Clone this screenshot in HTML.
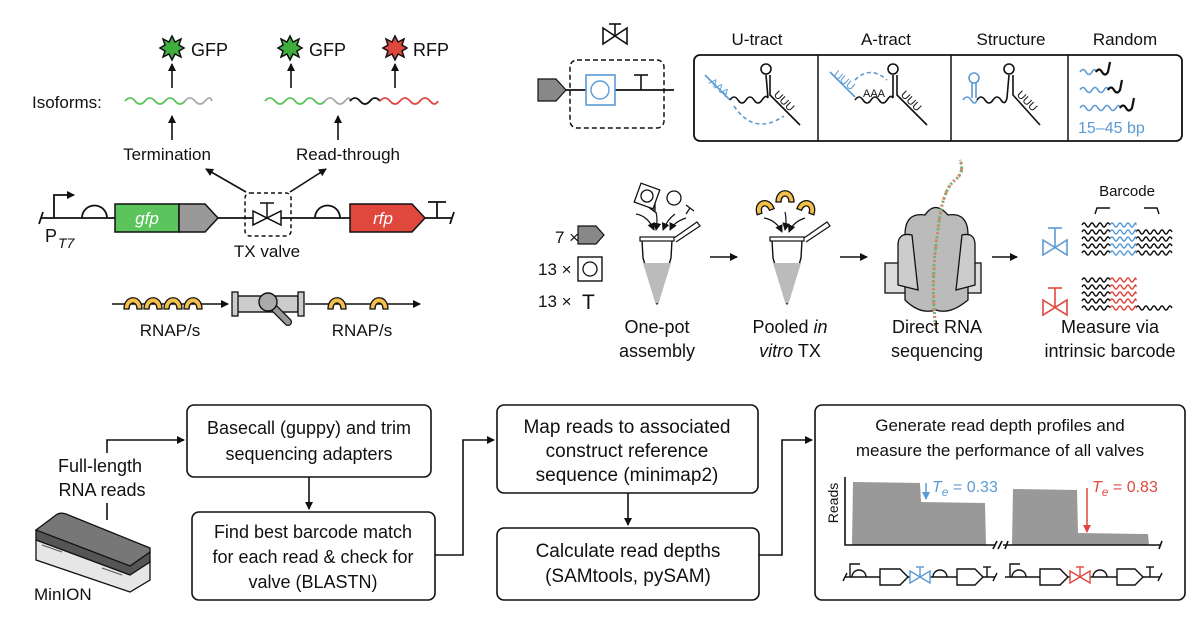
<!DOCTYPE html>
<html><head><meta charset="utf-8"><style>
html,body{margin:0;padding:0;background:#fff}
svg{display:block}
text{font-family:"Liberation Sans",sans-serif;fill:#111}
</style></head><body>
<svg width="1200" height="621" viewBox="0 0 1200 621" xmlns="http://www.w3.org/2000/svg">
<defs>
<marker id="ah" markerWidth="8" markerHeight="8" refX="7" refY="4" orient="auto" markerUnits="userSpaceOnUse"><path d="M0,0 L8,4 L0,8 z" fill="#111"/></marker>
<marker id="ahb" markerWidth="8" markerHeight="8" refX="7" refY="4" orient="auto" markerUnits="userSpaceOnUse"><path d="M0,0 L8,4 L0,8 z" fill="#5b9bd5"/></marker>
<marker id="ahr" markerWidth="8" markerHeight="8" refX="7" refY="4" orient="auto" markerUnits="userSpaceOnUse"><path d="M0,0 L8,4 L0,8 z" fill="#e0483e"/></marker>
<path id="star" d="M0,-12 L3,-6 L9,-9 L7,-3 L12,0 L7,3 L9,9 L3,6 L0,12 L-3,6 L-9,9 L-7,3 L-12,0 L-7,-3 L-9,-9 L-3,-6 Z"/>
<path id="cres" d="M-9,5 C-9,-10 9,-10 9,5 L4,5 C4,-3 -4,-3 -4,5 Z" fill="#f4c04a" stroke="#111" stroke-width="1.3"/>
</defs>

<!-- ===== Top-left ===== -->
<use href="#star" x="172" y="48" fill="#3fae3f" stroke="#111" stroke-width="1.5"/>
<text x="191" y="56" font-size="18">GFP</text>
<use href="#star" x="290" y="48" fill="#3fae3f" stroke="#111" stroke-width="1.5"/>
<text x="309" y="56" font-size="18">GFP</text>
<use href="#star" x="395" y="48" fill="#e0483e" stroke="#111" stroke-width="1.5"/>
<text x="413" y="56" font-size="18">RFP</text>
<g stroke="#111" stroke-width="1.6" fill="none" marker-end="url(#ah)">
<line x1="172" y1="88" x2="172" y2="64"/><line x1="291" y1="88" x2="291" y2="64"/><line x1="395" y1="88" x2="395" y2="64"/>
<line x1="172" y1="140" x2="172" y2="116"/><line x1="338" y1="140" x2="338" y2="116"/>
<line x1="246" y1="192" x2="206" y2="169"/><line x1="290" y1="192" x2="326" y2="169"/>
</g>
<text x="32" y="108" font-size="17">Isoforms:</text>
<g fill="none" stroke-width="1.8">
<path d="M125,101 q5,-6 10,0 t10,0 t10,0 t10,0 t10,0 t10,0" stroke="#5cc45c"/>
<path d="M185,101 q5,-6 10,0 t10,0 t7,0" stroke="#aaa"/>
<path d="M265,101 q5,-6 10,0 t10,0 t10,0 t10,0 t10,0 t10,0" stroke="#5cc45c"/>
<path d="M325,101 q5,-6 10,0 t10,0 t5,0" stroke="#aaa"/>
<path d="M350,101 q5,-6 10,0 t10,0 t10,0" stroke="#111"/>
<path d="M380,101 q5,-6 10,0 t10,0 t10,0 t10,0 t10,0 t8,0" stroke="#e0483e"/>
</g>
<text x="167" y="160" font-size="17" text-anchor="middle">Termination</text>
<text x="348" y="160" font-size="17" text-anchor="middle">Read-through</text>
<g stroke="#111" stroke-width="1.8" fill="none">
<line x1="41" y1="218" x2="452" y2="218"/>
<line x1="39" y1="224" x2="43" y2="212"/><line x1="450" y1="224" x2="454" y2="212"/>
<polyline points="54,218 54,195 74,195" marker-end="url(#ah)"/>
<path d="M82,218 a12,12 0 0 1 25,0"/>
<path d="M315,218 a12,12 0 0 1 25,0"/>
<line x1="437" y1="218" x2="437" y2="202"/><line x1="428" y1="202" x2="446" y2="202"/>
</g>
<rect x="115" y="204" width="64" height="28" fill="#5cc45c" stroke="#111" stroke-width="1.5"/>
<path d="M179,204 L205,204 L218,218 L205,232 L179,232 Z" fill="#999" stroke="#111" stroke-width="1.5"/>
<text x="147" y="224" font-size="17" text-anchor="middle" font-style="italic" style="fill:#fff">gfp</text>
<path d="M350,204 L412,204 L425,218 L412,232 L350,232 Z" fill="#e0483e" stroke="#111" stroke-width="1.5"/>
<text x="383" y="224" font-size="17" text-anchor="middle" font-style="italic" style="fill:#fff">rfp</text>
<rect x="245" y="193" width="46" height="43" rx="5" fill="none" stroke="#111" stroke-width="1.5" stroke-dasharray="4,3"/>
<path d="M253,211 L281,225 L281,211 L253,225 Z" fill="#fff" stroke="#111" stroke-width="1.5"/>
<line x1="267" y1="218" x2="267" y2="203" stroke="#111" stroke-width="1.5"/><line x1="260" y1="203" x2="274" y2="203" stroke="#111" stroke-width="1.5"/>
<text x="267" y="257" font-size="17" text-anchor="middle">TX valve</text>
<text x="45" y="242" font-size="18">P</text><text x="58" y="248" font-size="14" font-style="italic">T7</text>
<g stroke="#111" stroke-width="1.6">
<line x1="112" y1="304" x2="228" y2="304" marker-end="url(#ah)"/>
<line x1="305" y1="304" x2="420" y2="304" marker-end="url(#ah)"/>
</g>
<use href="#cres" x="133" y="304"/><use href="#cres" x="153" y="304"/><use href="#cres" x="173" y="304"/><use href="#cres" x="193" y="304"/>
<use href="#cres" x="337" y="304"/><use href="#cres" x="379" y="304"/>
<rect x="236" y="296" width="62" height="16" fill="#ccc" stroke="#111" stroke-width="1.4"/>
<rect x="232" y="292" width="6" height="24" fill="#ccc" stroke="#111" stroke-width="1.3"/>
<rect x="298" y="292" width="6" height="24" fill="#ccc" stroke="#111" stroke-width="1.3"/>
<line x1="270" y1="304" x2="288" y2="322" stroke="#111" stroke-width="8" stroke-linecap="round"/>
<line x1="270" y1="304" x2="288" y2="322" stroke="#999" stroke-width="5.5" stroke-linecap="round"/>
<circle cx="268" cy="302" r="9" fill="#aaa" stroke="#111" stroke-width="1.4"/>
<text x="170" y="336" font-size="17" text-anchor="middle">RNAP/s</text>
<text x="362" y="336" font-size="17" text-anchor="middle">RNAP/s</text>

<!-- ===== Top-right ===== -->
<path d="M603,28 L627,44 L627,28 L603,44 Z" fill="#fff" stroke="#111" stroke-width="1.6"/>
<line x1="615" y1="36" x2="615" y2="24" stroke="#111" stroke-width="1.6"/><line x1="609" y1="24" x2="621" y2="24" stroke="#111" stroke-width="1.6"/>
<rect x="570" y="60" width="94" height="68" rx="7" fill="none" stroke="#111" stroke-width="1.5" stroke-dasharray="5,3"/>
<line x1="560" y1="90" x2="674" y2="90" stroke="#111" stroke-width="1.8"/>
<path d="M538,79 L556,79 L566,90 L556,101 L538,101 Z" fill="#888" stroke="#111" stroke-width="1.2"/>
<rect x="586" y="75" width="29" height="30" fill="#fff" stroke="#5b9bd5" stroke-width="1.6"/>
<circle cx="600" cy="90" r="9" fill="none" stroke="#5b9bd5" stroke-width="1.4"/>
<line x1="641" y1="90" x2="641" y2="75" stroke="#111" stroke-width="1.6"/><line x1="634" y1="75" x2="648" y2="75" stroke="#111" stroke-width="1.6"/>
<text x="757" y="45" font-size="17" text-anchor="middle">U-tract</text>
<text x="886" y="45" font-size="17" text-anchor="middle">A-tract</text>
<text x="1011" y="45" font-size="17" text-anchor="middle">Structure</text>
<text x="1125" y="45" font-size="17" text-anchor="middle">Random</text>
<rect x="694" y="55" width="488" height="86" rx="6" fill="none" stroke="#111" stroke-width="1.8"/>
<line x1="818" y1="55" x2="818" y2="141" stroke="#111" stroke-width="1.5"/>
<line x1="951" y1="55" x2="951" y2="141" stroke="#111" stroke-width="1.5"/>
<line x1="1068" y1="55" x2="1068" y2="141" stroke="#111" stroke-width="1.5"/>
<g fill="none" stroke-width="1.6">
<path d="M705,75 L730,100" stroke="#5b9bd5"/><text x="710" y="85" font-size="11" style="fill:#5b9bd5" transform="rotate(40 712 82)">AAA</text>
<path d="M730,100 q4,-6 8,0 t8,0 t8,0 t8,0 t6,-2 L766,75" stroke="#111"/>
<path d="M734,106 q20,30 50,10" stroke="#5b9bd5" stroke-dasharray="4,3"/>
<circle cx="766" cy="69" r="5" stroke="#111"/>
<path d="M770,75 L770,95 L800,125" stroke="#111"/>
<text x="772" y="98" font-size="11" transform="rotate(45 776 98)">UUU</text>
<path d="M830,72 L855,97" stroke="#5b9bd5"/><text x="832" y="78" font-size="11" style="fill:#5b9bd5" transform="rotate(40 836 78)">UUU</text>
<path d="M855,100 q4,-6 8,0 t8,0 t8,0 t8,0 t6,-2 L893,75" stroke="#111"/>
<path d="M855,80 q15,-15 32,0" stroke="#5b9bd5" stroke-dasharray="4,3"/>
<text x="863" y="97" font-size="11">AAA</text>
<circle cx="893" cy="69" r="5" stroke="#111"/>
<path d="M897,75 L897,95 L927,125" stroke="#111"/>
<text x="899" y="98" font-size="11" transform="rotate(45 903 98)">UUU</text>
<path d="M963,100 q4,-6 8,0 t6,0" stroke="#5b9bd5"/>
<circle cx="974" cy="78" r="5" stroke="#5b9bd5"/><line x1="972" y1="83" x2="972" y2="98" stroke="#5b9bd5"/><line x1="976" y1="83" x2="976" y2="98" stroke="#5b9bd5"/>
<path d="M977,100 q4,-6 8,0 t8,0 t8,0 t6,-2 L1009,75" stroke="#111"/>
<circle cx="1009" cy="69" r="5" stroke="#111"/>
<path d="M1013,75 L1013,95 L1040,125" stroke="#111"/>
<text x="1015" y="98" font-size="11" transform="rotate(45 1019 98)">UUU</text>
<path d="M1080,72 q3,-5 6,0 t6,0 t4,0" stroke="#5b9bd5"/><path d="M1096,72 q3,-5 6,0 t6,0 L1110,62" stroke="#111" stroke-width="2.2"/>
<path d="M1080,90 q3,-5 6,0 t6,0 t6,0 t6,0 t4,0" stroke="#5b9bd5"/><path d="M1108,90 q3,-5 6,0 t6,0 L1122,80" stroke="#111" stroke-width="2.2"/>
<path d="M1080,108 q3,-5 6,0 t6,0 t6,0 t6,0 t6,0 t6,0 t4,0" stroke="#5b9bd5"/><path d="M1120,108 q3,-5 6,0 t6,0 L1134,98" stroke="#111" stroke-width="2.2"/>
</g>
<text x="1078" y="133" font-size="16" style="fill:#5b9bd5">15–45 bp</text>

<text x="555" y="243" font-size="17">7 ×</text>
<path d="M578,226 L596,226 L604,235 L596,244 L578,244 Z" fill="#888" stroke="#111" stroke-width="1.2"/>
<text x="538" y="275" font-size="17">13 ×</text>
<rect x="578" y="257" width="24" height="24" fill="#fff" stroke="#111" stroke-width="1.4"/><circle cx="590" cy="269" r="7" fill="none" stroke="#111" stroke-width="1.3"/>
<text x="538" y="307" font-size="17">13 ×</text>
<text x="582" y="309" font-size="21">T</text>
<g stroke="#111" stroke-width="1.3">
<path d="M643,203 L655,212 L655,202 Z" fill="#888"/>
<rect x="637" y="186" width="20" height="20" fill="#fff" transform="rotate(20 647 196)"/>
<circle cx="647" cy="196" r="6" fill="none"/>
<circle cx="674" cy="198" r="7" fill="#fff"/>
<path d="M686,205 L694,211 M690,208 L686,214" fill="none"/>
</g>
<g stroke="#111" stroke-width="1.2" fill="none" marker-end="url(#ah)">
<path d="M636,214 q12,2 18,16"/><path d="M656,212 q2,8 0,18"/><path d="M675,214 q-8,6 -12,16"/><path d="M686,218 q-12,4 -16,12"/>
</g>
<path d="M642,240 L672,240 L671,258 L658,302 Q657,306 656,302 L643,258 Z" fill="#fff" stroke="#111" stroke-width="1.4"/>
<path d="M643,263 L671,263 L659,302 Q657,305 655,302 Z" fill="#bbb"/>
<rect x="640" y="237" width="34" height="4" fill="#fff" stroke="#111" stroke-width="1.2"/>
<path d="M674,238 L697,222 L700,226 L676,242" fill="#fff" stroke="#111" stroke-width="1.2"/>
<line x1="710" y1="257" x2="737" y2="257" stroke="#111" stroke-width="1.6" marker-end="url(#ah)"/>
<use href="#cres" x="764" y="207" transform="rotate(-20 764 207)"/><use href="#cres" x="785" y="197"/><use href="#cres" x="807" y="207" transform="rotate(20 807 207)"/>
<g stroke="#111" stroke-width="1.2" fill="none" marker-end="url(#ah)">
<path d="M764,218 q12,2 18,14"/><path d="M785,212 q2,8 0,18"/><path d="M805,218 q-12,4 -16,14"/>
</g>
<path d="M772,240 L802,240 L801,258 L788,302 Q787,306 786,302 L773,258 Z" fill="#fff" stroke="#111" stroke-width="1.4"/>
<path d="M773,263 L801,263 L789,302 Q787,305 785,302 Z" fill="#bbb"/>
<rect x="770" y="237" width="34" height="4" fill="#fff" stroke="#111" stroke-width="1.2"/>
<path d="M804,238 L827,222 L830,226 L806,242" fill="#fff" stroke="#111" stroke-width="1.2"/>
<line x1="840" y1="257" x2="867" y2="257" stroke="#111" stroke-width="1.6" marker-end="url(#ah)"/>
<rect x="885" y="263" width="96" height="30" fill="#ddd" stroke="#111" stroke-width="1.3"/>
<path d="M905,300 L905,235 Q905,212 925,215 Q935,200 948,215 Q968,212 968,235 L968,300 Q950,315 936,310 Q920,315 905,300 Z" fill="#bbb" stroke="#111" stroke-width="1.3"/>
<path d="M898,285 L898,245 Q898,232 912,235 L918,290 Z M975,285 L975,245 Q975,232 962,235 L956,290 Z" fill="#ccc" stroke="#111" stroke-width="1.3"/>
<path d="M936,330 Q930,280 938,230 Q942,190 955,180 Q965,172 960,160" fill="none" stroke="#7a7" stroke-width="3" stroke-dasharray="2,2"/>
<path d="M936,330 Q930,280 938,230 Q942,190 955,180 Q965,172 960,160" fill="none" stroke="#d86" stroke-width="3" stroke-dasharray="2,5" stroke-dashoffset="2"/>
<line x1="992" y1="257" x2="1017" y2="257" stroke="#111" stroke-width="1.6" marker-end="url(#ah)"/>
<g stroke="#5b9bd5" stroke-width="1.6" fill="#fff">
<path d="M1043,240 L1067,255 L1067,240 L1043,255 Z"/><line x1="1055" y1="247" x2="1055" y2="228"/><line x1="1048" y1="228" x2="1062" y2="228"/>
</g>
<g stroke="#e0483e" stroke-width="1.6" fill="#fff">
<path d="M1043,300 L1067,315 L1067,300 L1043,315 Z"/><line x1="1055" y1="307" x2="1055" y2="288"/><line x1="1048" y1="288" x2="1062" y2="288"/>
</g>
<g fill="none" stroke-width="1.4">
<g stroke="#111"><path d="M1082,225 q2,-4 4,0 t4,0 t4,0 t4,0 t4,0 t4,0 t4,0 M1082,232 q2,-4 4,0 t4,0 t4,0 t4,0 t4,0 t4,0 t4,0 M1082,239 q2,-4 4,0 t4,0 t4,0 t4,0 t4,0 t4,0 t4,0 M1082,246 q2,-4 4,0 t4,0 t4,0 t4,0 t4,0 t4,0 t4,0 M1082,253 q2,-4 4,0 t4,0 t4,0 t4,0 t4,0 t4,0 t4,0"/>
<path d="M1136,232 q2,-4 4,0 t4,0 t4,0 t4,0 t4,0 t4,0 t4,0 t4,0 t4,0 M1136,239 q2,-4 4,0 t4,0 t4,0 t4,0 t4,0 t4,0 t4,0 t4,0 t4,0 M1136,246 q2,-4 4,0 t4,0 t4,0 t4,0 t4,0 t4,0 t4,0 t4,0 t4,0 M1136,253 q2,-4 4,0 t4,0 t4,0 t4,0 t4,0 t4,0 t4,0 t4,0 t4,0"/>
<path d="M1082,280 q2,-4 4,0 t4,0 t4,0 t4,0 t4,0 t4,0 t4,0 M1082,287 q2,-4 4,0 t4,0 t4,0 t4,0 t4,0 t4,0 t4,0 M1082,294 q2,-4 4,0 t4,0 t4,0 t4,0 t4,0 t4,0 t4,0 M1082,301 q2,-4 4,0 t4,0 t4,0 t4,0 t4,0 t4,0 t4,0 M1082,308 q2,-4 4,0 t4,0 t4,0 t4,0 t4,0 t4,0 t4,0"/>
<path d="M1136,308 q2,-4 4,0 t4,0 t4,0 t4,0 t4,0 t4,0 t4,0 t4,0 t4,0"/></g>
<g stroke="#5b9bd5"><path d="M1110,225 q2,-4 4,0 t4,0 t4,0 t4,0 t4,0 t4,0 t2,0 M1110,232 q2,-4 4,0 t4,0 t4,0 t4,0 t4,0 t4,0 t2,0 M1110,239 q2,-4 4,0 t4,0 t4,0 t4,0 t4,0 t4,0 t2,0 M1110,246 q2,-4 4,0 t4,0 t4,0 t4,0 t4,0 t4,0 t2,0 M1110,253 q2,-4 4,0 t4,0 t4,0 t4,0 t4,0 t4,0 t2,0"/></g>
<g stroke="#e0483e"><path d="M1110,280 q2,-4 4,0 t4,0 t4,0 t4,0 t4,0 t4,0 t2,0 M1110,287 q2,-4 4,0 t4,0 t4,0 t4,0 t4,0 t4,0 t2,0 M1110,294 q2,-4 4,0 t4,0 t4,0 t4,0 t4,0 t4,0 t2,0 M1110,301 q2,-4 4,0 t4,0 t4,0 t4,0 t4,0 t4,0 t2,0 M1110,308 q2,-4 4,0 t4,0 t4,0 t4,0 t4,0 t4,0 t2,0"/></g>
<path d="M1095,214 L1097,208 L1110,208 M1144,208 L1157,208 L1159,214" stroke="#111"/>
</g>
<text x="1127" y="196" font-size="15" text-anchor="middle">Barcode</text>
<g font-size="18" text-anchor="middle">
<text x="657" y="333">One-pot</text><text x="657" y="357">assembly</text>
<text x="790" y="333">Pooled <tspan font-style="italic">in</tspan></text><text x="790" y="357"><tspan font-style="italic">vitro</tspan> TX</text>
<text x="937" y="333">Direct RNA</text><text x="937" y="357">sequencing</text>
<text x="1110" y="333">Measure via</text><text x="1110" y="357">intrinsic barcode</text>
</g>

<!-- ===== Bottom ===== -->
<g fill="#fff" stroke="#111" stroke-width="1.6">
<rect x="187" y="405" width="244" height="72" rx="7"/>
<rect x="192" y="512" width="243" height="88" rx="7"/>
<rect x="497" y="405" width="261" height="88" rx="7"/>
<rect x="497" y="528" width="262" height="72" rx="7"/>
<rect x="815" y="405" width="370" height="195" rx="7"/>
</g>
<g font-size="18" text-anchor="middle">
<text x="309" y="434">Basecall (guppy) and trim</text><text x="309" y="460">sequencing adapters</text>
<text x="313" y="538">Find best barcode match</text><text x="313" y="563">for each read &amp; check for</text><text x="313" y="588">valve (BLASTN)</text>
<text x="100" y="472">Full-length</text><text x="102" y="496">RNA reads</text>
</g>
<g font-size="19" text-anchor="middle">
<text x="627" y="433">Map reads to associated</text><text x="627" y="457">construct reference</text><text x="627" y="481">sequence (minimap2)</text>
<text x="628" y="557">Calculate read depths</text><text x="628" y="582">(SAMtools, pySAM)</text>
</g>
<g font-size="17" text-anchor="middle">
<text x="1000" y="431">Generate read depth profiles and</text><text x="1000" y="456">measure the performance of all valves</text>
</g>
<text x="34" y="600" font-size="17">MinION</text>
<g stroke="#111" stroke-width="1.6" fill="none">
<polyline points="107,453 107,440 184,440" marker-end="url(#ah)"/>
<line x1="107" y1="503" x2="107" y2="520"/>
<line x1="309" y1="477" x2="309" y2="509" marker-end="url(#ah)"/>
<polyline points="435,555 463,555 463,440 494,440" marker-end="url(#ah)"/>
<line x1="628" y1="493" x2="628" y2="525" marker-end="url(#ah)"/>
<polyline points="759,555 782,555 782,440 812,440" marker-end="url(#ah)"/>
</g>
<path d="M36,540 L36,560 L130,592 L150,580 L150,560 L56,528 Z" fill="#e6e6e6" stroke="#111" stroke-width="1.3"/>
<path d="M36,530 L36,540 L130,575 L150,562 L150,552 L56,518 Z" fill="#555" stroke="#111" stroke-width="1.3"/>
<path d="M36,530 L56,515 Q60,512 66,514 L150,548 L150,552 L130,566 Z" fill="#777" stroke="#111" stroke-width="1.3"/>
<g stroke="#555" stroke-width="1"><line x1="42" y1="545" x2="62" y2="552"/><line x1="102" y1="568" x2="122" y2="575"/></g>
<text x="838" y="503" font-size="14" text-anchor="middle" transform="rotate(-90 838 503)">Reads</text>
<path d="M852,545 L853,482 L920,483 L921,502 L985,503 L986,545 Z" fill="#999"/>
<path d="M1012,545 L1013,489 L1077,490 L1078,533 L1148,534 L1149,545 Z" fill="#999"/>
<g stroke="#111" stroke-width="1.6" fill="none">
<polyline points="845,477 845,545 995,545"/>
<line x1="993" y1="549" x2="997" y2="541"/><line x1="998" y1="549" x2="1002" y2="541"/>
<line x1="1003" y1="545" x2="1160" y2="545"/><line x1="1005" y1="549" x2="1008" y2="541"/><line x1="1159" y1="549" x2="1162" y2="541"/>
</g>
<line x1="926" y1="483" x2="926" y2="499" stroke="#5b9bd5" stroke-width="1.5" marker-end="url(#ahb)"/>
<text x="932" y="492" font-size="16" style="fill:#5b9bd5"><tspan font-style="italic">T</tspan><tspan font-size="12" dy="4" font-style="italic">e</tspan><tspan dy="-4"> = 0.33</tspan></text>
<line x1="1087" y1="488" x2="1087" y2="532" stroke="#e0483e" stroke-width="1.5" marker-end="url(#ahr)"/>
<text x="1092" y="492" font-size="16" style="fill:#e0483e"><tspan font-style="italic">T</tspan><tspan font-size="12" dy="4" font-style="italic">e</tspan><tspan dy="-4"> = 0.83</tspan></text>
<g stroke="#111" stroke-width="1.4" fill="#fff">
<line x1="845" y1="577" x2="995" y2="577"/><line x1="843" y1="581" x2="847" y2="573"/><line x1="993" y1="581" x2="997" y2="573"/>
<polyline points="850,577 850,564 860,564" fill="none"/>
<path d="M852,577 a7,7 0 0 1 14,0" fill="none"/>
<path d="M880,569 L900,569 L908,577 L900,585 L880,585 Z"/>
<path d="M933,577 a7,7 0 0 1 14,0" fill="none"/>
<path d="M957,569 L975,569 L983,577 L975,585 L957,585 Z"/>
<line x1="987" y1="577" x2="987" y2="567"/><line x1="983" y1="567" x2="991" y2="567"/>
<line x1="1005" y1="577" x2="1160" y2="577"/><line x1="1158" y1="581" x2="1162" y2="573"/>
<polyline points="1010,577 1010,564 1020,564" fill="none"/>
<path d="M1012,577 a7,7 0 0 1 14,0" fill="none"/>
<path d="M1040,569 L1060,569 L1068,577 L1060,585 L1040,585 Z"/>
<path d="M1093,577 a7,7 0 0 1 14,0" fill="none"/>
<path d="M1117,569 L1135,569 L1143,577 L1135,585 L1117,585 Z"/>
<line x1="1150" y1="577" x2="1150" y2="567"/><line x1="1146" y1="567" x2="1154" y2="567"/>
</g>
<g stroke="#5b9bd5" stroke-width="1.4" fill="#fff"><path d="M910,571 L930,583 L930,571 L910,583 Z"/><line x1="920" y1="577" x2="920" y2="567"/><line x1="916" y1="567" x2="924" y2="567"/></g>
<g stroke="#e0483e" stroke-width="1.4" fill="#fff"><path d="M1070,571 L1090,583 L1090,571 L1070,583 Z"/><line x1="1080" y1="577" x2="1080" y2="567"/><line x1="1076" y1="567" x2="1084" y2="567"/></g>
</svg>
</body></html>
